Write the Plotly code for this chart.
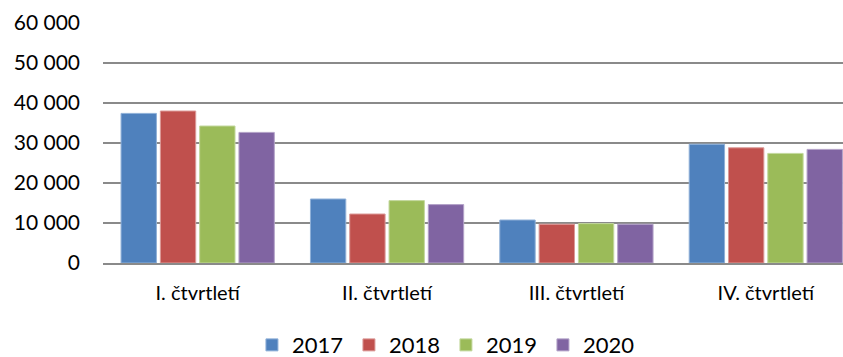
import plotly.graph_objects as go

# Quarterly values per year
quarters = ["I. čtvrtletí", "II. čtvrtletí", "III. čtvrtletí", "IV. čtvrtletí"]
years = ["2017", "2018", "2019", "2020"]
values_2017 = [37400, 16000, 10750, 29700]
values_2018 = [38000, 12250, 9700, 28800]
values_2019 = [34250, 15600, 9850, 27400]
values_2020 = [32650, 14600, 9700, 28400]
y_ticks = [0, 10000, 20000, 30000, 40000, 50000, 60000]

series = [values_2017, values_2018, values_2019, values_2020]
colors = ["#4F81BD", "#C0504D", "#9BBB59", "#8064A2"]
edge_colors = ["#8FB0D8", "#DC9A98", "#C3D89E", "#B3A2C8"]

FONT = "Lato"
GRID = "#8A8A8A"

fig = go.Figure()
for name, vals, col, edge in zip(years, series, colors, edge_colors):
    fig.add_trace(go.Bar(
        x=quarters, y=vals, name=name,
        marker=dict(color=col, line=dict(color=edge, width=1)),
    ))

fig.update_layout(
    width=843, height=357,
    margin=dict(l=103, r=0, t=23, b=94, autoexpand=False),
    paper_bgcolor="white", plot_bgcolor="white",
    barmode="group", bargap=0.17, bargroupgap=0.1,
    separators=", ",
    font=dict(family=FONT, size=21, color="#000000"),
    showlegend=True,
    legend=dict(
        orientation="h", xref="container", x=0.529, xanchor="center",
        yref="paper", y=-0.342, yanchor="middle",
        font=dict(family=FONT, size=22, color="#000000"),
        entrywidth=52, entrywidthmode="pixels",
        itemclick=False, itemdoubleclick=False,
        traceorder="normal",
    ),
)

fig.update_xaxes(
    range=[-0.5, 3.4076],
    showgrid=False, showline=True, linecolor=GRID, linewidth=1.5,
    ticks="", ticklabelstandoff=11,
    tickfont=dict(family=FONT, size=20),
)
fig.update_yaxes(
    range=[0, 60000], tickvals=y_ticks, tickformat=",.0f",
    showgrid=True, gridcolor=GRID, gridwidth=1.5,
    zeroline=False, showline=False, ticks="",
    ticklabelstandoff=22,
    tickfont=dict(family=FONT, size=21),
)

fig.write_html("out.html")
